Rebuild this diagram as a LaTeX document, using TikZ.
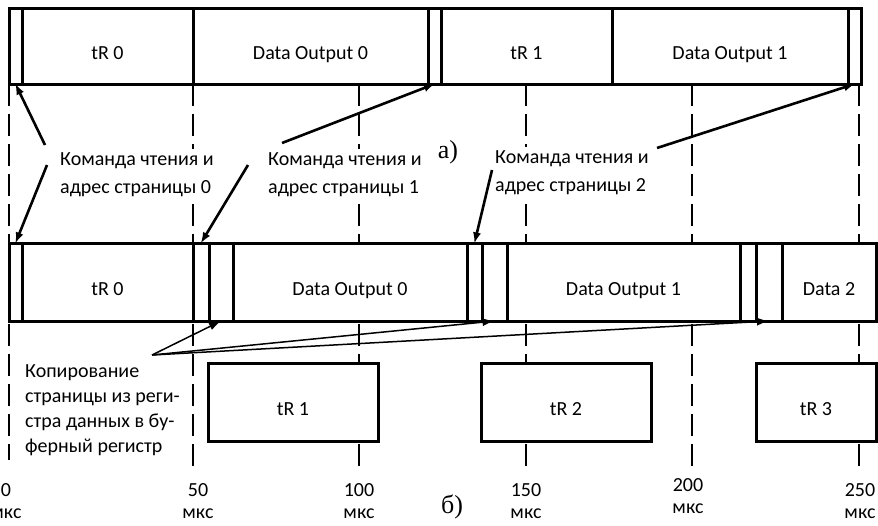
\documentclass[tikz,border=0pt]{standalone}
\usepackage{fontspec}
\setmainfont{Carlito}
\newfontfamily\partfont{Liberation Serif}
\usepackage{tikz}
\usetikzlibrary{arrows}
\usetikzlibrary{arrows.meta}

\tikzset{
  seg/.style={draw, line width=3pt, fill=white, anchor=north west, inner sep=0pt,
    outer sep=0pt, font=\fontsize{20}{24}\selectfont, text height=26pt, text depth=0pt},
  note/.style={fill=white, align=left, inner sep=3pt, anchor=north west,
    font=\fontsize{20}{28}\selectfont},
  ticklbl/.style={align=center, anchor=north, inner sep=0pt, font=\fontsize{20}{22}\selectfont},
  grid/.style={line width=2.6pt, dash pattern=on 22pt off 8pt},
  cmdarrow/.style={-latex, line width=2.6pt},
  cparrow/.style={-{Latex[length=12pt,width=8pt]}, line width=1.5pt},
}

\begin{document}
\begin{tikzpicture}[x=1pt, y=-1pt]
  \useasboundingbox (0,0) rectangle (878,525);
  % time grid
  \foreach \x/\e in {9/460, 193/467, 359/467, 526/467, 692/467, 859/467}
    \draw [grid] (\x,84) -- (\x,\e);

  % a) top bar
  \node [seg, minimum width=13pt, minimum height=76pt] (tc0) at (9,8) {};
  \node [seg, minimum width=171pt, minimum height=76pt] (ttr0) at (22,8) {tR 0};
  \node [seg, minimum width=235pt, minimum height=76pt] (tdo0) at (193,8) {Data Output 0};
  \node [seg, minimum width=13pt, minimum height=76pt] (tc1) at (428,8) {};
  \node [seg, minimum width=171pt, minimum height=76pt] (ttr1) at (441,8) {tR 1};
  \node [seg, minimum width=236pt, minimum height=76pt] (tdo1) at (612,8) {Data Output 1};
  \node [seg, minimum width=13pt, minimum height=76pt] (tc2) at (848,8) {};

  % b) middle bar
  \node [seg, minimum width=13pt, minimum height=78pt] (mc0) at (9,243) {};
  \node [seg, minimum width=171pt, minimum height=78pt] (mtr0) at (22,243) {tR 0};
  \node [seg, minimum width=16pt, minimum height=78pt] (mc1) at (193,243) {};
  \node [seg, minimum width=24pt, minimum height=78pt] (mcp0) at (209,243) {};
  \node [seg, minimum width=234pt, minimum height=78pt] (mdo0) at (233,243) {Data Output 0};
  \node [seg, minimum width=15pt, minimum height=78pt] (mc2) at (467,243) {};
  \node [seg, minimum width=25pt, minimum height=78pt] (mcp1) at (482,243) {};
  \node [seg, minimum width=233pt, minimum height=78pt] (mdo1) at (507,243) {Data Output 1};
  \node [seg, minimum width=16pt, minimum height=78pt] (mc3) at (740,243) {};
  \node [seg, minimum width=26pt, minimum height=78pt] (mcp2) at (756,243) {};
  \node [seg, minimum width=94pt, minimum height=78pt] (md2) at (782,243) {Data 2};

  % b) cache reads
  \node [seg, minimum width=170pt, minimum height=78pt] (btr1) at (208,363) {tR 1};
  \node [seg, minimum width=170pt, minimum height=78pt] (btr2) at (481,363) {tR 2};
  \node [seg, minimum width=120pt, minimum height=78pt] (btr3) at (756,363) {tR 3};

  % labels
  \node [note] (cmd0) at (57,149) {Команда чтения и\\адрес страницы 0};
  \node [note] (cmd1) at (265,149) {Команда чтения и\\адрес страницы 1};
  \node [note] (cmd2) at (492,147) {Команда чтения и\\адрес страницы 2};
  \node [note, font=\fontsize{20}{25}\selectfont] (copy) at (22,361)
    {Копирование\\страницы из реги-\\стра данных в бу-\\ферный регистр};
  \node [font=\partfont\fontsize{26}{26}\selectfont] (parta) at (448,152) {а)};
  \node [font=\partfont\fontsize{26}{26}\selectfont] (partb) at (452,507) {б)};

  % arrows
  \coordinate (c0up) at (45,145);
  \coordinate (c0dn) at (47,165);
  \coordinate (c1up) at (282,143);
  \coordinate (c1dn) at (248,165);
  \coordinate (c2up) at (657,148);
  \coordinate (c2dn) at (492,170);
  \draw [cmdarrow] (c0up) -- (tc0.south);
  \draw [cmdarrow] (c0dn) -- (mc0.north);
  \draw [cmdarrow] (c1up) -- (tc1.south);
  \draw [cmdarrow] (c1dn) -- (mc1.north);
  \draw [cmdarrow] (c2up) -- (tc2.south);
  \draw [cmdarrow] (c2dn) -- (mc2.north);
  \coordinate (cpfrom) at (152,355);
  \draw [cparrow] (cpfrom) -- (mcp0.south);
  \draw [cparrow] (cpfrom) -- (mcp1.south);
  \draw [cparrow] (cpfrom) -- (mcp2.south);

  % time marks
  \foreach \x/\y/\t in {6/483/0, 198/483/50, 359/483/100, 526/483/150, 688/478/200, 860/483/250}
    \node [ticklbl] (t\t) at (\x,\y) {\t\\мкс};
\end{tikzpicture}
\end{document}
